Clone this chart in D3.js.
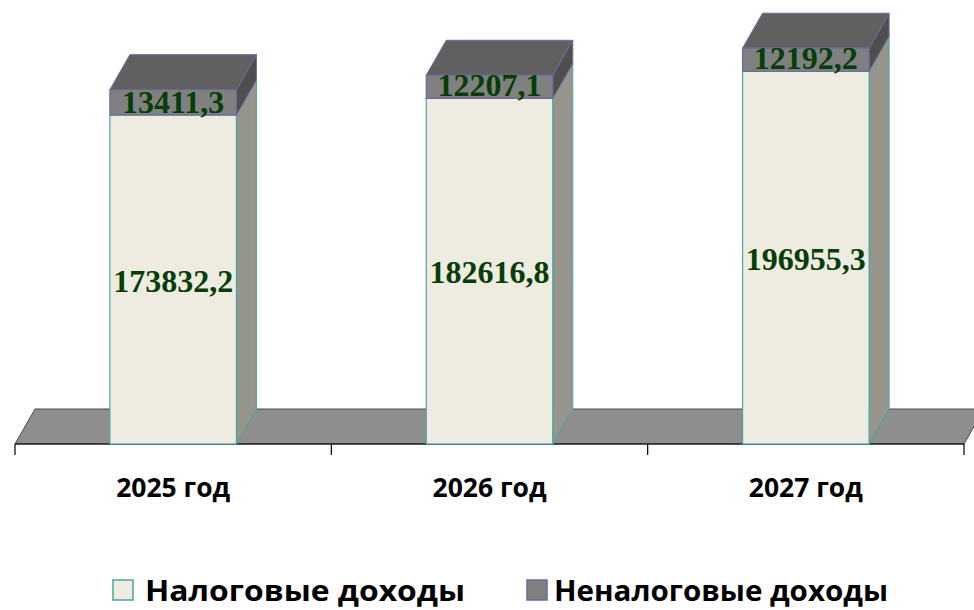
<!DOCTYPE html>
<html><head><meta charset="utf-8">
<script src="https://cdn.jsdelivr.net/npm/d3@7"></script>
<style>body{margin:0;background:#fff}</style>
</head><body>
<svg id="c" width="974" height="610"></svg>
<script>
const categories = ["2025 год", "2026 год", "2027 год"];
const taxIncome = [173832.2, 182616.8, 196955.3];
const nonTaxIncome = [13411.3, 12207.1, 12192.2];
const seriesNames = ["Налоговые доходы", "Неналоговые доходы"];
const fmt = v => v.toFixed(1).replace(".", ",");

const svg = d3.select("#c");
const x = d3.scaleBand().domain(categories).range([15, 964]).paddingInner(0).paddingOuter(0);
const y = d3.scaleLinear().domain([0, 200000]).range([444, 65.5]);
const dx = 20, dy = -35;
const bw = x.bandwidth() * 0.4;
const y0 = y(0);

// floor
const fx0 = x.range()[0], fx1 = x.range()[1];
svg.append("polygon")
  .attr("points", [[fx0, y0], [fx0 + dx, y0 + dy], [fx1 + dx, y0 + dy], [fx1, y0]].map(p => p.join(",")).join(" "))
  .attr("fill", "#8e8e8e").attr("stroke", "#4a4a4a").attr("stroke-width", 1);

// axis
svg.append("line").attr("x1", fx0).attr("x2", fx1).attr("y1", y0).attr("y2", y0)
  .attr("stroke", "#000").attr("stroke-width", 1.2);
const tickPos = categories.map(c => x(c)).concat([fx1]);
svg.selectAll(".tick").data(tickPos).join("line")
  .attr("x1", d => d).attr("x2", d => d).attr("y1", y0).attr("y2", y0 + 11)
  .attr("stroke", "#000").attr("stroke-width", 1.2);

const poly = pts => pts.map(p => p.join(",")).join(" ");

categories.forEach((c, i) => {
  const xl = x(c) + (x.bandwidth() - bw) / 2, xr = xl + bw;
  const yt = y(taxIncome[i]);
  const yc = y(taxIncome[i] + nonTaxIncome[i]);
  const g = svg.append("g");
  g.append("polygon").attr("points", poly([[xr, y0], [xr + dx, y0 + dy], [xr + dx, yt + dy], [xr, yt]]))
    .attr("fill", "#96958c").attr("stroke", "#4aa5a3").attr("stroke-width", 1);
  g.append("rect").attr("x", xl).attr("y", yt).attr("width", bw).attr("height", y0 - yt)
    .attr("fill", "#eeece1").attr("stroke", "#4aa5a3").attr("stroke-width", 1.2);
  g.append("polygon").attr("points", poly([[xr, yt], [xr + dx, yt + dy], [xr + dx, yc + dy], [xr, yc]]))
    .attr("fill", "#4e4e4e").attr("stroke", "#6a6aa0").attr("stroke-width", 1);
  g.append("polygon").attr("points", poly([[xl, yc], [xl + dx, yc + dy], [xr + dx, yc + dy], [xr, yc]]))
    .attr("fill", "#606060").attr("stroke", "#6a6aa0").attr("stroke-width", 1);
  g.append("rect").attr("x", xl).attr("y", yc).attr("width", bw).attr("height", yt - yc)
    .attr("fill", "#808080").attr("stroke", "#6a6aa0").attr("stroke-width", 1.2);
  const cx = xl + bw / 2;
  g.append("text").attr("x", cx).attr("y", (yt + y0) / 2 + 12)
    .attr("text-anchor", "middle").attr("font-family", "Liberation Serif, Times New Roman, serif")
    .attr("font-weight", "bold").attr("font-size", 32).attr("fill", "#063d06").text(fmt(taxIncome[i]));
  g.append("text").attr("x", cx).attr("y", yt - 2)
    .attr("text-anchor", "middle").attr("font-family", "Liberation Serif, Times New Roman, serif")
    .attr("font-weight", "bold").attr("font-size", 32).attr("fill", "#063d06").text(fmt(nonTaxIncome[i]));
  svg.append("text").attr("x", x(c) + x.bandwidth() / 2).attr("y", 497)
    .attr("text-anchor", "middle").attr("font-family", "Open Sans, sans-serif")
    .attr("font-weight", "bold").attr("font-size", 27).attr("fill", "#000")
    .attr("textLength", 114).attr("lengthAdjust", "spacingAndGlyphs").text(c);
});

// legend
const legend = [
  {name: seriesNames[0], fill: "#eeece1", stroke: "#4aa5a3", sx: 113, tx: 145, tl: 320},
  {name: seriesNames[1], fill: "#808080", stroke: "#6a6aa0", sx: 527, tx: 554, tl: 334}
];
legend.forEach(l => {
  svg.append("rect").attr("x", l.sx).attr("y", 580).attr("width", 20).attr("height", 20)
    .attr("fill", l.fill).attr("stroke", l.stroke).attr("stroke-width", 1.5);
  svg.append("text").attr("x", l.tx).attr("y", 601).attr("font-family", "Open Sans, sans-serif")
    .attr("font-weight", "bold").attr("font-size", 29).attr("fill", "#000")
    .attr("textLength", l.tl).attr("lengthAdjust", "spacingAndGlyphs").text(l.name);
});
</script>
</body></html>
